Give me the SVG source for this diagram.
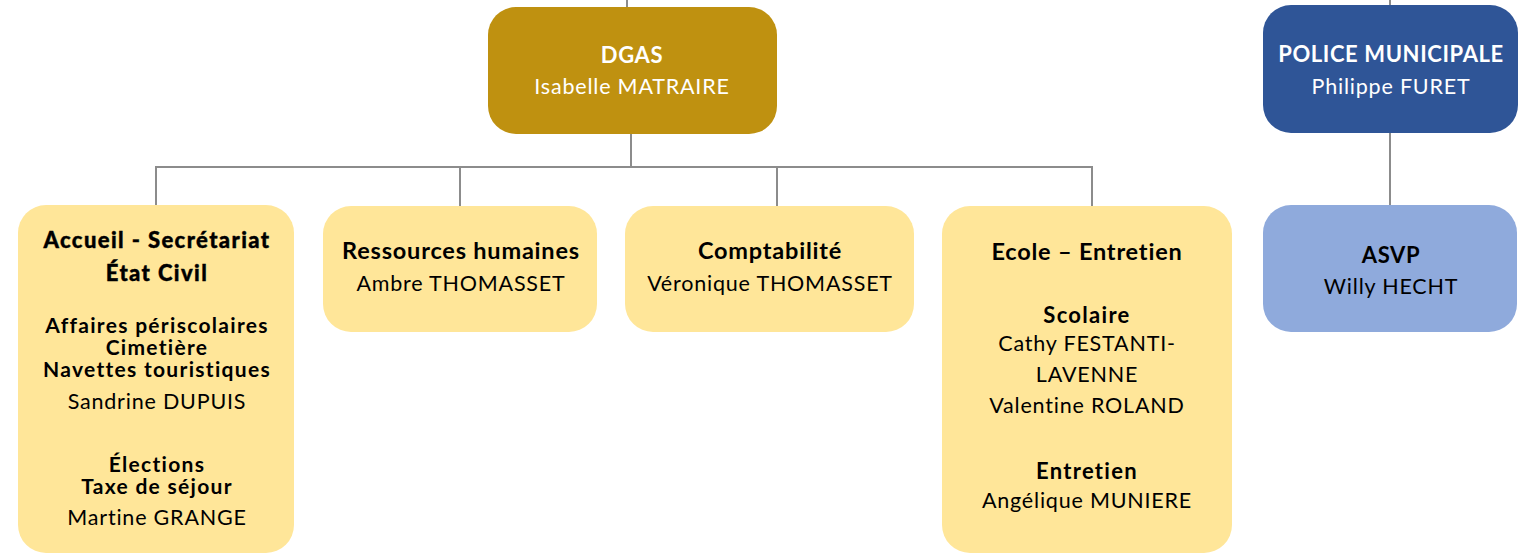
<svg xmlns="http://www.w3.org/2000/svg" width="1520" height="554" viewBox="0 0 1520 554">
<style>
.t{font-family:Lato,"Open Sans","Liberation Sans",sans-serif;text-anchor:middle;}
.hd{font-weight:bold;font-size:22px;letter-spacing:0.6px;}
.ti{font-weight:bold;font-size:23.5px;letter-spacing:0.8px;}
.ta{font-weight:900;font-size:22px;letter-spacing:1.4px;stroke:#000;stroke-width:0.4px;}
.sb{font-weight:bold;font-size:22px;letter-spacing:1.3px;}
.sa{font-weight:bold;font-size:21px;letter-spacing:1.3px;}
.n{font-size:21.5px;letter-spacing:0.8px;}
.w{fill:#ffffff;}
.k{fill:#000000;}
.yel{fill:#FFE699;}
.conn line{stroke:#8C8C8C;stroke-width:2;fill:none;}
</style>
<rect width="1520" height="554" fill="#ffffff"/>
<g class="conn" id="connectors">
<line x1="627" y1="0" x2="627" y2="8"/>
<line x1="631" y1="133" x2="631" y2="167"/>
<line x1="155" y1="167" x2="1093" y2="167"/>
<line x1="156" y1="166" x2="156" y2="206"/>
<line x1="460" y1="166" x2="460" y2="207"/>
<line x1="777" y1="166" x2="777" y2="207"/>
<line x1="1092" y1="166" x2="1092" y2="207"/>
<line x1="1390" y1="0" x2="1390" y2="6"/>
<line x1="1390" y1="132" x2="1390" y2="206"/>
</g>
<g id="dgas">
<rect x="488" y="7" width="289" height="127" rx="28" fill="#BF9110"/>
<text class="t hd w" x="632" y="63">DGAS</text>
<text class="t n w" x="632" y="94">Isabelle MATRAIRE</text>
</g>
<g id="police">
<rect x="1263" y="5" width="255" height="128" rx="28" fill="#2F5597"/>
<text class="t hd w" x="1391" y="62">POLICE MUNICIPALE</text>
<text class="t n w" x="1391" y="94">Philippe FURET</text>
</g>
<g id="asvp">
<rect x="1263" y="205" width="254" height="127" rx="28" fill="#8FAADC"/>
<text class="t hd k" x="1391" y="263">ASVP</text>
<text class="t n k" x="1391" y="294">Willy HECHT</text>
</g>
<g id="accueil">
<rect x="18" y="205" width="276" height="348" rx="28" class="yel"/>
<text class="t ta k" x="157" y="248">Accueil - Secrétariat</text>
<text class="t ta k" x="157" y="281">État Civil</text>
<text class="t sa k" x="157" y="333">Affaires périscolaires</text>
<text class="t sa k" x="157" y="355">Cimetière</text>
<text class="t sa k" x="157" y="377">Navettes touristiques</text>
<text class="t n k" x="157" y="409">Sandrine DUPUIS</text>
<text class="t sa k" x="157" y="472">Élections</text>
<text class="t sa k" x="157" y="494">Taxe de séjour</text>
<text class="t n k" x="157" y="525">Martine GRANGE</text>
</g>
<g id="rh">
<rect x="323" y="206" width="274" height="126" rx="28" class="yel"/>
<text class="t ti k" x="461" y="259">Ressources humaines</text>
<text class="t n k" x="461" y="291">Ambre THOMASSET</text>
</g>
<g id="compta">
<rect x="625" y="206" width="289" height="126" rx="28" class="yel"/>
<text class="t ti k" x="770" y="259">Comptabilité</text>
<text class="t n k" x="770" y="291">Véronique THOMASSET</text>
</g>
<g id="ecole">
<rect x="942" y="206" width="290" height="347" rx="28" class="yel"/>
<text class="t ti k" x="1087" y="260">Ecole – Entretien</text>
<text class="t sb k" x="1087" y="323">Scolaire</text>
<text class="t n k" x="1087" y="351">Cathy FESTANTI-</text>
<text class="t n k" x="1087" y="382">LAVENNE</text>
<text class="t n k" x="1087" y="413">Valentine ROLAND</text>
<text class="t sb k" x="1087" y="479">Entretien</text>
<text class="t n k" x="1087" y="508">Angélique MUNIERE</text>
</g>
</svg>
